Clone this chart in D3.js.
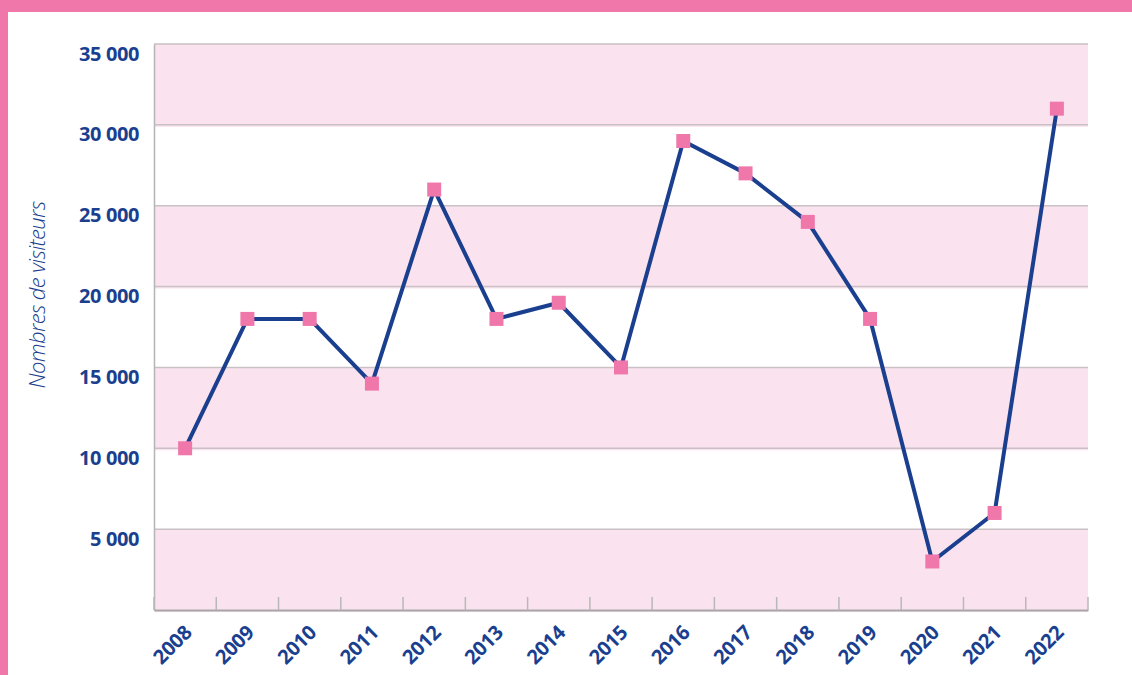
<!DOCTYPE html>
<html><head><meta charset="utf-8">
<script src="https://cdn.jsdelivr.net/npm/d3@7/dist/d3.min.js"></script>
<style>
html,body{margin:0;padding:0;background:#fff;}
svg{display:block;}
svg text{font-family:"Open Sans","Noto Sans",sans-serif;}
</style></head><body>
<svg id="c" width="1132" height="675"></svg>
<script>
const years = ["2008","2009","2010","2011","2012","2013","2014","2015","2016","2017","2018","2019","2020","2021","2022"];
const visitors = [10000,18000,18000,14000,26000,18000,19000,15000,29000,27000,24000,18000,3000,6000,31000];
const yTicks = [5000,10000,15000,20000,25000,30000,35000];
const bands = [[0,5000],[10000,15000],[20000,25000],[30000,35000]];
const yTitle = "Nombres de visiteurs";

const svg = d3.select("#c");
const W=1132,H=675;
const L=154,R=1088,T=44,B=610;
const blue="#1b3f8f", pink="#ef77aa";
const FF='"Open Sans","Noto Sans",sans-serif';

svg.append("rect").attr("x",0).attr("y",0).attr("width",W).attr("height",12).attr("fill",pink);
svg.append("rect").attr("x",0).attr("y",0).attr("width",8).attr("height",H).attr("fill",pink);

const x=d3.scaleBand().domain(years).range([L,R]);
const y=d3.scaleLinear().domain([0,35000]).range([B,T]);

svg.append("g").selectAll("rect").data(bands).join("rect")
  .attr("x",L).attr("width",R-L)
  .attr("y",d=>y(d[1])).attr("height",d=>y(d[0])-y(d[1])+2)
  .attr("fill","#fae3ee");

svg.append("g").selectAll("line").data(yTicks).join("line")
  .attr("x1",L).attr("x2",R).attr("y1",d=>y(d)).attr("y2",d=>y(d))
  .attr("stroke","#c9c1c5").attr("stroke-width",1.5);

// y axis
const fmt=d=>d3.format(",")(d).replace(/,/g," ");
const ya=svg.append("g").attr("transform",`translate(${L},0)`)
  .call(d3.axisLeft(y).tickValues(yTicks).tickSize(0).tickPadding(15).tickFormat(fmt));
ya.attr("font-family",FF);
ya.select(".domain").attr("stroke","#b5b5b5").attr("stroke-width",1.5);
ya.selectAll("text").attr("fill",blue).attr("font-size",20).attr("font-weight","bold")
  .attr("font-family",FF).attr("letter-spacing","-0.4").attr("dy","0.8em");

// x axis
const xa=svg.append("g").attr("transform",`translate(0,${B})`)
  .call(d3.axisBottom(x).tickSize(0).tickPadding(0));
xa.attr("font-family",FF);
xa.select(".domain").attr("stroke","#a8a8a8").attr("stroke-width",2);
xa.selectAll("text")
  .attr("fill",blue).attr("font-size",20).attr("font-weight","bold").attr("font-family",FF)
  .attr("letter-spacing","-0.3")
  .attr("text-anchor","end")
  .attr("transform",`translate(3,19) rotate(-45)`)
  .attr("dy","0.35em").attr("y",0).attr("x",0);
// band boundary ticks
const bounds = years.map(d=>x(d)).concat([R]);
svg.append("g").selectAll("line").data(bounds).join("line")
  .attr("x1",d=>d).attr("x2",d=>d).attr("y1",B).attr("y2",B-13)
  .attr("stroke","#b8b8b8").attr("stroke-width",1.5);

// line
const line=d3.line().x((d,i)=>x(years[i])+x.bandwidth()/2).y(d=>y(d));
svg.append("path").datum(visitors).attr("d",line)
  .attr("fill","none").attr("stroke",blue).attr("stroke-width",4).attr("stroke-linejoin","round");

svg.append("g").selectAll("rect").data(visitors).join("rect")
  .attr("x",(d,i)=>x(years[i])+x.bandwidth()/2-7).attr("y",d=>y(d)-7)
  .attr("width",14).attr("height",14).attr("fill",pink);

svg.append("text").attr("transform",`translate(45,295) rotate(-90)`)
  .attr("text-anchor","middle").attr("fill",blue).attr("font-size",22)
  .attr("font-family",FF)
  .attr("font-style","italic").attr("font-weight","300").attr("letter-spacing","-0.6").text(yTitle);
</script></body></html>
